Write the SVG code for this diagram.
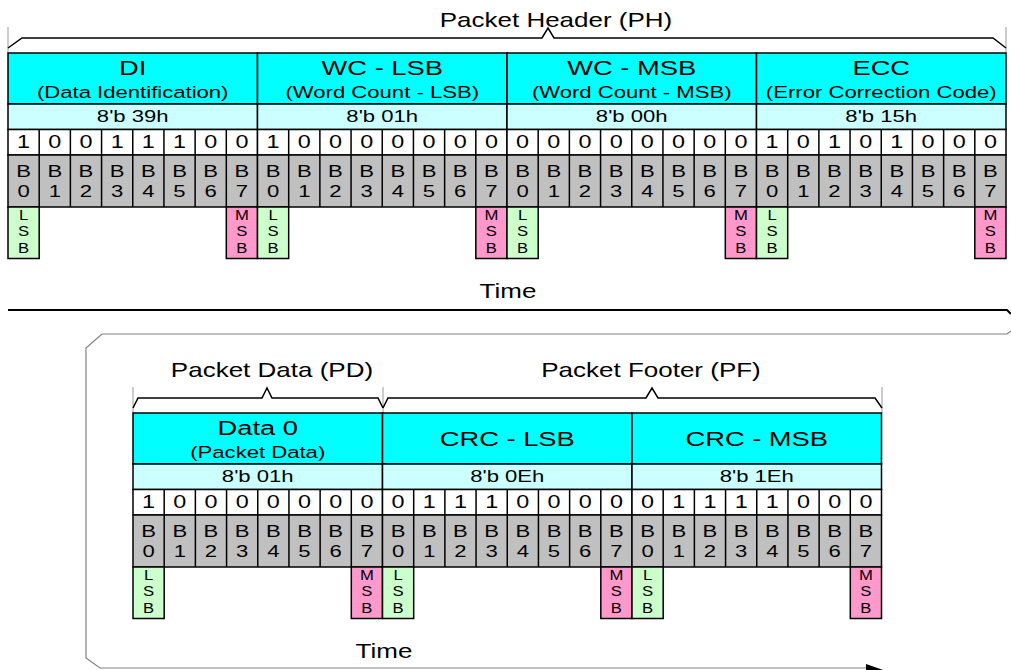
<svg xmlns="http://www.w3.org/2000/svg" width="1011" height="670" viewBox="0 0 1011 670">
<style>
.t{font-family:"Liberation Sans",Arial,sans-serif;text-anchor:middle;fill:#000;transform-box:fill-box;transform-origin:center;transform:scaleX(1.3)}
.h1{font-size:21px}.h2{font-size:17px}.v{font-size:17px}.d{font-size:18px}.b{font-size:17px}.s{font-size:14.5px;transform:scaleX(1.15)}.ttl{font-size:20px}
.hdr{fill:#00FFFF;stroke:#000;stroke-width:1.5}
.val{fill:#CCFFFF;stroke:#000;stroke-width:1.5}
.bits{fill:#FFFFFF;stroke:#000;stroke-width:1.5}
.bn{fill:#C0C0C0;stroke:#000;stroke-width:1.5}
.lsb{fill:#CCFFCC;stroke:#000;stroke-width:1.5}
.msb{fill:#FF99CC;stroke:#000;stroke-width:1.5}
.grid{fill:none;stroke:#000;stroke-width:1.5}
.brace{fill:none;stroke:#000;stroke-width:1.5}
.tick{fill:none;stroke:#999;stroke-width:1}
.frame{fill:none;stroke:#808080;stroke-width:1.2}
</style>

<g id="ph-brace">
<path class="tick" d="M8,27V53 M1006,27V53"/>
<path class="brace" d="M8,48 L22,38 L542,38 L548,28 L554,38 L993,38 L1006,48"/>
<text class="t ttl" x="556" y="27">Packet Header (PH)</text>
</g>

<g id="di" transform="translate(8,53)">
<rect class="hdr" x="0" y="0" width="249.5" height="51"/>
<rect class="val" x="0" y="51" width="249.5" height="25.5"/>
<rect class="bits" x="0" y="76.5" width="249.5" height="25.5"/>
<rect class="bn" x="0" y="102" width="249.5" height="52"/>
<path class="grid" d="M31.19,76.5V154M62.38,76.5V154M93.56,76.5V154M124.75,76.5V154M155.94,76.5V154M187.13,76.5V154M218.31,76.5V154"/>
<rect class="lsb" x="0" y="154" width="31.19" height="51.5"/>
<rect class="msb" x="218.31" y="154" width="31.19" height="51.5"/>
<text class="t h1" x="124.75" y="22">DI</text>
<text class="t h2" x="124.75" y="45">(Data Identification)</text>
<text class="t v" x="124.75" y="69">8'b 39h</text>
<text class="t d" x="15.59" y="95">1</text><text class="t d" x="46.78" y="95">0</text><text class="t d" x="77.97" y="95">0</text><text class="t d" x="109.16" y="95">1</text><text class="t d" x="140.34" y="95">1</text><text class="t d" x="171.53" y="95">1</text><text class="t d" x="202.72" y="95">0</text><text class="t d" x="233.91" y="95">0</text>
<text class="t b" x="15.59" y="124">B<tspan x="15.59" dy="20">0</tspan></text><text class="t b" x="46.78" y="124">B<tspan x="46.78" dy="20">1</tspan></text><text class="t b" x="77.97" y="124">B<tspan x="77.97" dy="20">2</tspan></text><text class="t b" x="109.16" y="124">B<tspan x="109.16" dy="20">3</tspan></text><text class="t b" x="140.34" y="124">B<tspan x="140.34" dy="20">4</tspan></text><text class="t b" x="171.53" y="124">B<tspan x="171.53" dy="20">5</tspan></text><text class="t b" x="202.72" y="124">B<tspan x="202.72" dy="20">6</tspan></text><text class="t b" x="233.91" y="124">B<tspan x="233.91" dy="20">7</tspan></text>
<text class="t s" x="15.59" y="167">L<tspan x="15.59" dy="16.5">S</tspan><tspan x="15.59" dy="16.5">B</tspan></text>
<text class="t s" x="233.91" y="167">M<tspan x="233.91" dy="16.5">S</tspan><tspan x="233.91" dy="16.5">B</tspan></text>
</g>

<g id="wc-lsb" transform="translate(257.5,53)">
<rect class="hdr" x="0" y="0" width="249.5" height="51"/>
<rect class="val" x="0" y="51" width="249.5" height="25.5"/>
<rect class="bits" x="0" y="76.5" width="249.5" height="25.5"/>
<rect class="bn" x="0" y="102" width="249.5" height="52"/>
<path class="grid" d="M31.19,76.5V154M62.38,76.5V154M93.56,76.5V154M124.75,76.5V154M155.94,76.5V154M187.13,76.5V154M218.31,76.5V154"/>
<rect class="lsb" x="0" y="154" width="31.19" height="51.5"/>
<rect class="msb" x="218.31" y="154" width="31.19" height="51.5"/>
<text class="t h1" x="124.75" y="22">WC - LSB</text>
<text class="t h2" x="124.75" y="45">(Word Count - LSB)</text>
<text class="t v" x="124.75" y="69">8'b 01h</text>
<text class="t d" x="15.59" y="95">1</text><text class="t d" x="46.78" y="95">0</text><text class="t d" x="77.97" y="95">0</text><text class="t d" x="109.16" y="95">0</text><text class="t d" x="140.34" y="95">0</text><text class="t d" x="171.53" y="95">0</text><text class="t d" x="202.72" y="95">0</text><text class="t d" x="233.91" y="95">0</text>
<text class="t b" x="15.59" y="124">B<tspan x="15.59" dy="20">0</tspan></text><text class="t b" x="46.78" y="124">B<tspan x="46.78" dy="20">1</tspan></text><text class="t b" x="77.97" y="124">B<tspan x="77.97" dy="20">2</tspan></text><text class="t b" x="109.16" y="124">B<tspan x="109.16" dy="20">3</tspan></text><text class="t b" x="140.34" y="124">B<tspan x="140.34" dy="20">4</tspan></text><text class="t b" x="171.53" y="124">B<tspan x="171.53" dy="20">5</tspan></text><text class="t b" x="202.72" y="124">B<tspan x="202.72" dy="20">6</tspan></text><text class="t b" x="233.91" y="124">B<tspan x="233.91" dy="20">7</tspan></text>
<text class="t s" x="15.59" y="167">L<tspan x="15.59" dy="16.5">S</tspan><tspan x="15.59" dy="16.5">B</tspan></text>
<text class="t s" x="233.91" y="167">M<tspan x="233.91" dy="16.5">S</tspan><tspan x="233.91" dy="16.5">B</tspan></text>
</g>

<g id="wc-msb" transform="translate(507,53)">
<rect class="hdr" x="0" y="0" width="249.5" height="51"/>
<rect class="val" x="0" y="51" width="249.5" height="25.5"/>
<rect class="bits" x="0" y="76.5" width="249.5" height="25.5"/>
<rect class="bn" x="0" y="102" width="249.5" height="52"/>
<path class="grid" d="M31.19,76.5V154M62.38,76.5V154M93.56,76.5V154M124.75,76.5V154M155.94,76.5V154M187.13,76.5V154M218.31,76.5V154"/>
<rect class="lsb" x="0" y="154" width="31.19" height="51.5"/>
<rect class="msb" x="218.31" y="154" width="31.19" height="51.5"/>
<text class="t h1" x="124.75" y="22">WC - MSB</text>
<text class="t h2" x="124.75" y="45">(Word Count - MSB)</text>
<text class="t v" x="124.75" y="69">8'b 00h</text>
<text class="t d" x="15.59" y="95">0</text><text class="t d" x="46.78" y="95">0</text><text class="t d" x="77.97" y="95">0</text><text class="t d" x="109.16" y="95">0</text><text class="t d" x="140.34" y="95">0</text><text class="t d" x="171.53" y="95">0</text><text class="t d" x="202.72" y="95">0</text><text class="t d" x="233.91" y="95">0</text>
<text class="t b" x="15.59" y="124">B<tspan x="15.59" dy="20">0</tspan></text><text class="t b" x="46.78" y="124">B<tspan x="46.78" dy="20">1</tspan></text><text class="t b" x="77.97" y="124">B<tspan x="77.97" dy="20">2</tspan></text><text class="t b" x="109.16" y="124">B<tspan x="109.16" dy="20">3</tspan></text><text class="t b" x="140.34" y="124">B<tspan x="140.34" dy="20">4</tspan></text><text class="t b" x="171.53" y="124">B<tspan x="171.53" dy="20">5</tspan></text><text class="t b" x="202.72" y="124">B<tspan x="202.72" dy="20">6</tspan></text><text class="t b" x="233.91" y="124">B<tspan x="233.91" dy="20">7</tspan></text>
<text class="t s" x="15.59" y="167">L<tspan x="15.59" dy="16.5">S</tspan><tspan x="15.59" dy="16.5">B</tspan></text>
<text class="t s" x="233.91" y="167">M<tspan x="233.91" dy="16.5">S</tspan><tspan x="233.91" dy="16.5">B</tspan></text>
</g>

<g id="ecc" transform="translate(756.5,53)">
<rect class="hdr" x="0" y="0" width="249.5" height="51"/>
<rect class="val" x="0" y="51" width="249.5" height="25.5"/>
<rect class="bits" x="0" y="76.5" width="249.5" height="25.5"/>
<rect class="bn" x="0" y="102" width="249.5" height="52"/>
<path class="grid" d="M31.19,76.5V154M62.38,76.5V154M93.56,76.5V154M124.75,76.5V154M155.94,76.5V154M187.13,76.5V154M218.31,76.5V154"/>
<rect class="lsb" x="0" y="154" width="31.19" height="51.5"/>
<rect class="msb" x="218.31" y="154" width="31.19" height="51.5"/>
<text class="t h1" x="124.75" y="22">ECC</text>
<text class="t h2" x="124.75" y="45">(Error Correction Code)</text>
<text class="t v" x="124.75" y="69">8'b 15h</text>
<text class="t d" x="15.59" y="95">1</text><text class="t d" x="46.78" y="95">0</text><text class="t d" x="77.97" y="95">1</text><text class="t d" x="109.16" y="95">0</text><text class="t d" x="140.34" y="95">1</text><text class="t d" x="171.53" y="95">0</text><text class="t d" x="202.72" y="95">0</text><text class="t d" x="233.91" y="95">0</text>
<text class="t b" x="15.59" y="124">B<tspan x="15.59" dy="20">0</tspan></text><text class="t b" x="46.78" y="124">B<tspan x="46.78" dy="20">1</tspan></text><text class="t b" x="77.97" y="124">B<tspan x="77.97" dy="20">2</tspan></text><text class="t b" x="109.16" y="124">B<tspan x="109.16" dy="20">3</tspan></text><text class="t b" x="140.34" y="124">B<tspan x="140.34" dy="20">4</tspan></text><text class="t b" x="171.53" y="124">B<tspan x="171.53" dy="20">5</tspan></text><text class="t b" x="202.72" y="124">B<tspan x="202.72" dy="20">6</tspan></text><text class="t b" x="233.91" y="124">B<tspan x="233.91" dy="20">7</tspan></text>
<text class="t s" x="15.59" y="167">L<tspan x="15.59" dy="16.5">S</tspan><tspan x="15.59" dy="16.5">B</tspan></text>
<text class="t s" x="233.91" y="167">M<tspan x="233.91" dy="16.5">S</tspan><tspan x="233.91" dy="16.5">B</tspan></text>
</g>

<g id="time-top">
<text class="t ttl" x="508" y="298">Time</text>
</g>

<g id="pd-brace">
<path class="tick" d="M133,387V413 M383,387V413"/>
<path class="brace" d="M133,408 L138,398 L262,398 L267,388 L272,398 L378,398 L383,408"/>
<text class="t ttl" x="272" y="377">Packet Data (PD)</text>
</g>

<g id="pf-brace">
<path class="tick" d="M882,387V413"/>
<path class="brace" d="M383,408 L388,398 L646,398 L652,388 L658,398 L875,398 L882,408"/>
<text class="t ttl" x="651" y="377">Packet Footer (PF)</text>
</g>

<g id="data0" transform="translate(133,413)">
<rect class="hdr" x="0" y="0" width="249.5" height="51"/>
<rect class="val" x="0" y="51" width="249.5" height="25.5"/>
<rect class="bits" x="0" y="76.5" width="249.5" height="25.5"/>
<rect class="bn" x="0" y="102" width="249.5" height="52"/>
<path class="grid" d="M31.19,76.5V154M62.38,76.5V154M93.56,76.5V154M124.75,76.5V154M155.94,76.5V154M187.13,76.5V154M218.31,76.5V154"/>
<rect class="lsb" x="0" y="154" width="31.19" height="51.5"/>
<rect class="msb" x="218.31" y="154" width="31.19" height="51.5"/>
<text class="t h1" x="124.75" y="22">Data 0</text>
<text class="t h2" x="124.75" y="45">(Packet Data)</text>
<text class="t v" x="124.75" y="69">8'b 01h</text>
<text class="t d" x="15.59" y="95">1</text><text class="t d" x="46.78" y="95">0</text><text class="t d" x="77.97" y="95">0</text><text class="t d" x="109.16" y="95">0</text><text class="t d" x="140.34" y="95">0</text><text class="t d" x="171.53" y="95">0</text><text class="t d" x="202.72" y="95">0</text><text class="t d" x="233.91" y="95">0</text>
<text class="t b" x="15.59" y="124">B<tspan x="15.59" dy="20">0</tspan></text><text class="t b" x="46.78" y="124">B<tspan x="46.78" dy="20">1</tspan></text><text class="t b" x="77.97" y="124">B<tspan x="77.97" dy="20">2</tspan></text><text class="t b" x="109.16" y="124">B<tspan x="109.16" dy="20">3</tspan></text><text class="t b" x="140.34" y="124">B<tspan x="140.34" dy="20">4</tspan></text><text class="t b" x="171.53" y="124">B<tspan x="171.53" dy="20">5</tspan></text><text class="t b" x="202.72" y="124">B<tspan x="202.72" dy="20">6</tspan></text><text class="t b" x="233.91" y="124">B<tspan x="233.91" dy="20">7</tspan></text>
<text class="t s" x="15.59" y="167">L<tspan x="15.59" dy="16.5">S</tspan><tspan x="15.59" dy="16.5">B</tspan></text>
<text class="t s" x="233.91" y="167">M<tspan x="233.91" dy="16.5">S</tspan><tspan x="233.91" dy="16.5">B</tspan></text>
</g>

<g id="crc-lsb" transform="translate(382.5,413)">
<rect class="hdr" x="0" y="0" width="249.5" height="51"/>
<rect class="val" x="0" y="51" width="249.5" height="25.5"/>
<rect class="bits" x="0" y="76.5" width="249.5" height="25.5"/>
<rect class="bn" x="0" y="102" width="249.5" height="52"/>
<path class="grid" d="M31.19,76.5V154M62.38,76.5V154M93.56,76.5V154M124.75,76.5V154M155.94,76.5V154M187.13,76.5V154M218.31,76.5V154"/>
<rect class="lsb" x="0" y="154" width="31.19" height="51.5"/>
<rect class="msb" x="218.31" y="154" width="31.19" height="51.5"/>
<text class="t h1" x="124.75" y="33">CRC - LSB</text>
<text class="t v" x="124.75" y="69">8'b 0Eh</text>
<text class="t d" x="15.59" y="95">0</text><text class="t d" x="46.78" y="95">1</text><text class="t d" x="77.97" y="95">1</text><text class="t d" x="109.16" y="95">1</text><text class="t d" x="140.34" y="95">0</text><text class="t d" x="171.53" y="95">0</text><text class="t d" x="202.72" y="95">0</text><text class="t d" x="233.91" y="95">0</text>
<text class="t b" x="15.59" y="124">B<tspan x="15.59" dy="20">0</tspan></text><text class="t b" x="46.78" y="124">B<tspan x="46.78" dy="20">1</tspan></text><text class="t b" x="77.97" y="124">B<tspan x="77.97" dy="20">2</tspan></text><text class="t b" x="109.16" y="124">B<tspan x="109.16" dy="20">3</tspan></text><text class="t b" x="140.34" y="124">B<tspan x="140.34" dy="20">4</tspan></text><text class="t b" x="171.53" y="124">B<tspan x="171.53" dy="20">5</tspan></text><text class="t b" x="202.72" y="124">B<tspan x="202.72" dy="20">6</tspan></text><text class="t b" x="233.91" y="124">B<tspan x="233.91" dy="20">7</tspan></text>
<text class="t s" x="15.59" y="167">L<tspan x="15.59" dy="16.5">S</tspan><tspan x="15.59" dy="16.5">B</tspan></text>
<text class="t s" x="233.91" y="167">M<tspan x="233.91" dy="16.5">S</tspan><tspan x="233.91" dy="16.5">B</tspan></text>
</g>

<g id="crc-msb" transform="translate(632,413)">
<rect class="hdr" x="0" y="0" width="249.5" height="51"/>
<rect class="val" x="0" y="51" width="249.5" height="25.5"/>
<rect class="bits" x="0" y="76.5" width="249.5" height="25.5"/>
<rect class="bn" x="0" y="102" width="249.5" height="52"/>
<path class="grid" d="M31.19,76.5V154M62.38,76.5V154M93.56,76.5V154M124.75,76.5V154M155.94,76.5V154M187.13,76.5V154M218.31,76.5V154"/>
<rect class="lsb" x="0" y="154" width="31.19" height="51.5"/>
<rect class="msb" x="218.31" y="154" width="31.19" height="51.5"/>
<text class="t h1" x="124.75" y="33">CRC - MSB</text>
<text class="t v" x="124.75" y="69">8'b 1Eh</text>
<text class="t d" x="15.59" y="95">0</text><text class="t d" x="46.78" y="95">1</text><text class="t d" x="77.97" y="95">1</text><text class="t d" x="109.16" y="95">1</text><text class="t d" x="140.34" y="95">1</text><text class="t d" x="171.53" y="95">0</text><text class="t d" x="202.72" y="95">0</text><text class="t d" x="233.91" y="95">0</text>
<text class="t b" x="15.59" y="124">B<tspan x="15.59" dy="20">0</tspan></text><text class="t b" x="46.78" y="124">B<tspan x="46.78" dy="20">1</tspan></text><text class="t b" x="77.97" y="124">B<tspan x="77.97" dy="20">2</tspan></text><text class="t b" x="109.16" y="124">B<tspan x="109.16" dy="20">3</tspan></text><text class="t b" x="140.34" y="124">B<tspan x="140.34" dy="20">4</tspan></text><text class="t b" x="171.53" y="124">B<tspan x="171.53" dy="20">5</tspan></text><text class="t b" x="202.72" y="124">B<tspan x="202.72" dy="20">6</tspan></text><text class="t b" x="233.91" y="124">B<tspan x="233.91" dy="20">7</tspan></text>
<text class="t s" x="15.59" y="167">L<tspan x="15.59" dy="16.5">S</tspan><tspan x="15.59" dy="16.5">B</tspan></text>
<text class="t s" x="233.91" y="167">M<tspan x="233.91" dy="16.5">S</tspan><tspan x="233.91" dy="16.5">B</tspan></text>
</g>

<g id="time-bottom">
<text class="t ttl" x="384" y="658">Time</text>
</g>

<g id="connectors">
<path d="M8,310 H1007 L1011,314" fill="none" stroke="#000" stroke-width="2"/>
<path class="frame" d="M1011,331 L1007,334 L102,334 L86,348 L86,658 L100,668 L868,668"/>
<path d="M866,664 L886,671 L866,678 z" fill="#000"/>
</g>
</svg>
